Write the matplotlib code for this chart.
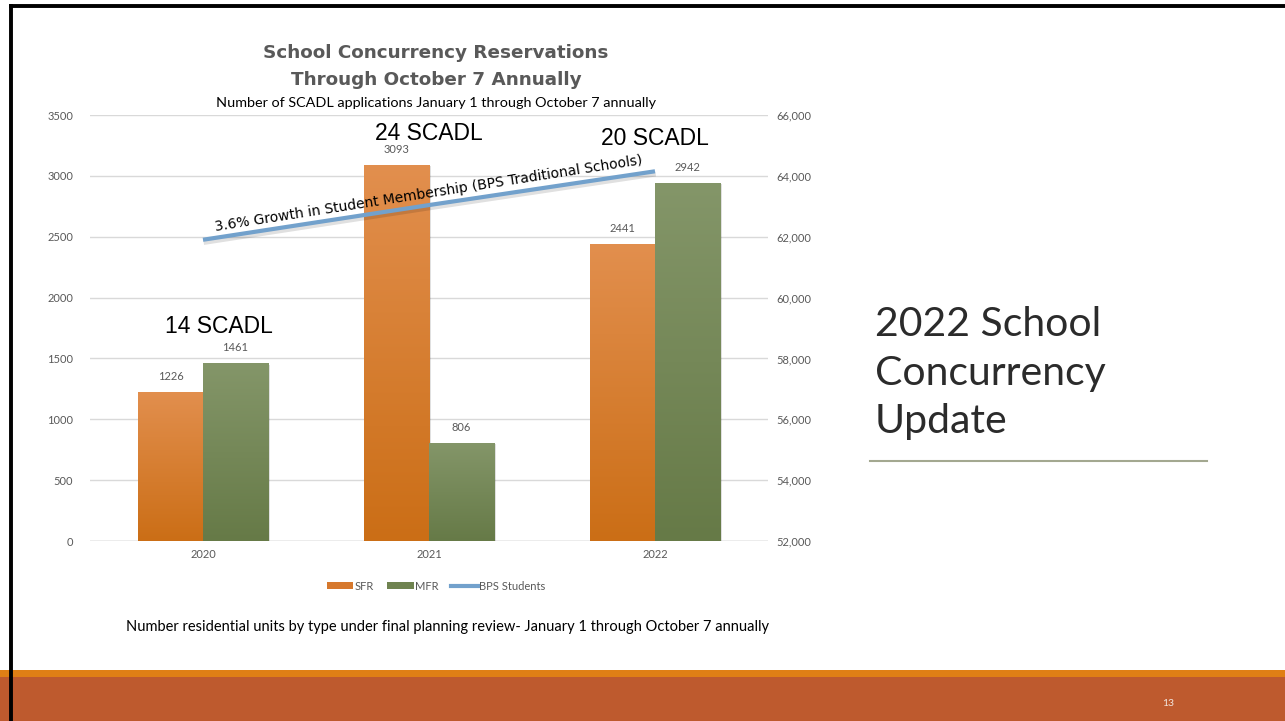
import matplotlib
matplotlib.use("Agg")
import matplotlib.pyplot as plt
import numpy as np
from matplotlib.lines import Line2D
from matplotlib.patches import Patch, Rectangle
from matplotlib.ticker import FuncFormatter

# ---------------- data ----------------
years = ["2020", "2021", "2022"]
sfr = [1226, 3093, 2441]
mfr = [1461, 806, 2942]
bps_students = [61900, 63040, 64150]
scadl_labels = ["14 SCADL", "24 SCADL", "20 SCADL"]
scadl_y = [1766, 3352, 3311]
scadl_dx = [0.07, 0.0, 0.0]
left_ticks = [0, 500, 1000, 1500, 2000, 2500, 3000, 3500]
right_ticks = [52000, 54000, 56000, 58000, 60000, 62000, 64000, 66000]

W, H = 1285, 721
fig = plt.figure(figsize=(W / 100, H / 100), dpi=100)
fig.patch.set_facecolor("white")

GRAY = "#595959"
FONT = ["Lato", "DejaVu Sans"]

# axes
x0, x1, ytop, ybot = 90, 768, 115, 541
ax = fig.add_axes([x0 / W, 1 - ybot / H, (x1 - x0) / W, (ybot - ytop) / H])
ax.set_xlim(-0.5, 2.5)
ax.set_ylim(0, 3500)
ax2 = ax.twinx()
ax2.set_ylim(52000, 66000)
for a in (ax, ax2):
    for s in a.spines.values():
        s.set_visible(False)
ax.set_yticks(left_ticks)
ax2.set_yticks(right_ticks)
ax2.yaxis.set_major_formatter(FuncFormatter(lambda v, p: f"{int(v):,}"))
ax.grid(axis="y", color="#D9D9D9", lw=1)
ax.set_axisbelow(True)
ax.tick_params(axis="y", length=0, pad=12, labelsize=8, labelcolor=GRAY)
ax2.tick_params(axis="y", length=0, pad=6, labelsize=8, labelcolor=GRAY)
ax.set_xticks(range(len(years)))
ax.set_xticklabels(years)
ax.tick_params(axis="x", length=0, pad=6, labelsize=8, labelcolor=GRAY)
for lab in ax.get_yticklabels() + ax.get_xticklabels() + ax2.get_yticklabels():
    lab.set_fontfamily(FONT)
ax.axhline(0, color="#BFBFBF", lw=1, zorder=1)

# bars with gradient
bw = 0.288
xs = np.arange(len(years))

def grad_bars(bars, top, bottom):
    cmap = matplotlib.colors.LinearSegmentedColormap.from_list("g", [bottom, top])
    grad = np.linspace(0, 1, 256).reshape(-1, 1)
    for b in bars:
        bx, by = b.get_x(), b.get_y()
        bwid, bh = b.get_width(), b.get_height()
        sh = Rectangle((bx + 0.008, by - 12), bwid, bh, transform=ax.transData,
                       color="#000000", alpha=0.12, zorder=2, lw=0)
        ax.add_patch(sh)
        im = ax.imshow(grad, cmap=cmap, aspect="auto", origin="lower",
                       extent=[bx, bx + bwid, by, by + bh], zorder=3)
        im.set_clip_path(b)
    ax.set_xlim(-0.5, 2.5)
    ax.set_ylim(0, 3500)

b1 = ax.bar(xs - bw / 2, sfr, bw, color="none", lw=0, zorder=3)
b2 = ax.bar(xs + bw / 2, mfr, bw, color="none", lw=0, zorder=3)
grad_bars(b1, "#E28F4E", "#CB6E16")
grad_bars(b2, "#849669", "#667A47")

for xi, v in zip(xs - bw / 2, sfr):
    ax.annotate(str(v), (xi, v), xytext=(0, 7), textcoords="offset points",
                ha="center", va="bottom", fontsize=8, color=GRAY, family=FONT)
for xi, v in zip(xs + bw / 2, mfr):
    ax.annotate(str(v), (xi, v), xytext=(0, 7), textcoords="offset points",
                ha="center", va="bottom", fontsize=8, color=GRAY, family=FONT)

# SCADL labels
for xi, t, yv, dx in zip(xs, scadl_labels, scadl_y, scadl_dx):
    ax.text(xi + dx, yv, t, ha="center", va="center", fontsize=16.5,
            color="black", family=["Liberation Sans", "DejaVu Sans"], zorder=6)

# student line
ax2.plot(xs, bps_students, color="#000000", lw=3.5, alpha=0.12, zorder=4,
         solid_capstyle="butt", transform=ax2.transData +
         matplotlib.transforms.ScaledTranslation(0.5 / 72, -2 / 72, fig.dpi_scale_trans))
ax2.plot(xs, bps_students, color="#72A1CC", lw=3, zorder=5, solid_capstyle="butt")
ax2.annotate("3.6% Growth in Student Membership (BPS Traditional Schools)",
             (1.0, bps_students[1]), xytext=(0, 8), textcoords="offset points",
             ha="center", va="center", rotation=8.9, fontsize=10, color="black",
             family=["DejaVu Sans"], rotation_mode="anchor", zorder=7)

# titles
TFONT = ["DejaVu Sans"]
fig.text(436 / W, 1 - 53 / H, "School Concurrency Reservations", ha="center", va="center",
         fontsize=13.2, fontweight="bold", color=GRAY, family=TFONT)
fig.text(436 / W, 1 - 80 / H, "Through October 7 Annually", ha="center", va="center",
         fontsize=13.2, fontweight="bold", color=GRAY, family=TFONT)
fig.text(436 / W, 1 - 103 / H, "Number of SCADL applications January 1 through October 7 annually",
         ha="center", va="center", fontsize=10.4, color="black", family=FONT)

# legend
handles = [Patch(facecolor="#D6782D", edgecolor="none"),
           Patch(facecolor="#6F8350", edgecolor="none"),
           Line2D([], [], color="#72A1CC", lw=3)]
leg = fig.legend(handles, ["SFR", "MFR", "BPS Students"], loc="center",
                 bbox_to_anchor=(436 / W, 1 - 586 / H), ncol=3, frameon=False,
                 handlelength=2.4, handleheight=0.5, handletextpad=0.1,
                 columnspacing=1.2, prop={"family": FONT, "size": 8})
for t in leg.get_texts():
    t.set_color(GRAY)

fig.text(448 / W, 1 - 627 / H,
         "Number residential units by type under final planning review- January 1 through October 7 annually",
         ha="center", va="center", fontsize=10.5, color="black", family=FONT)

# right title
for i, line in enumerate(["2022 School", "Concurrency", "Update"]):
    fig.text(875 / W, 1 - (325 + 48.5 * i) / H, line, ha="left", va="center",
             fontsize=29.5, fontweight="normal", color="#2B2B2B", family=FONT)
fig.add_artist(Line2D([870 / W, 1207 / W], [1 - 461 / H, 1 - 461 / H],
                      color="#A3A890", lw=1.5))

# bottom band
fig.add_artist(Rectangle((0, 0), 1, (721 - 677) / H, transform=fig.transFigure,
                         color="#BE5A2E", lw=0, zorder=0))
fig.add_artist(Rectangle((0, (721 - 677) / H), 1, 7 / H, transform=fig.transFigure,
                         color="#E07F15", lw=0, zorder=0))
fig.text(1168 / W, 1 - 703 / H, "13", ha="center", va="center", fontsize=7.5,
         color="#F2E6DF", family=FONT)

# black border
fig.add_artist(Line2D([10.5 / W, 1], [1 - 5.5 / H, 1 - 5.5 / H], color="black", lw=2.8))
fig.add_artist(Line2D([10.5 / W, 10.5 / W], [0, 1 - 5.5 / H], color="black", lw=2.8))

fig.savefig("out.png", dpi=100, facecolor="white")
